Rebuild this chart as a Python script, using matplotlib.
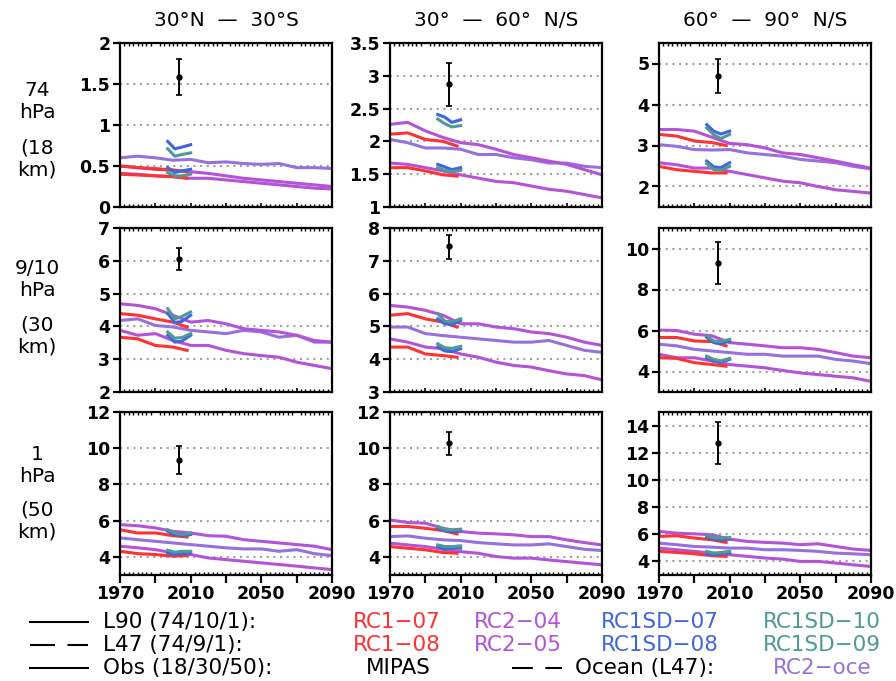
# -*- coding: utf-8 -*-

import numpy as np
import matplotlib
matplotlib.use("Agg")
import matplotlib.pyplot as plt
from matplotlib.lines import Line2D
from matplotlib.ticker import MultipleLocator

# ---- data (panels ordered row by row: 74 hPa, 9/10 hPa, 1 hPa x 3 latitude bands)
col_titles = ["30°N  —  30°S", "30°  —  60°  N/S", "60°  —  90°  N/S"]
row_top = ["74\nhPa", "9/10\nhPa", "1\nhPa"]
row_bot = ["(18\nkm)", "(30\nkm)", "(50\nkm)"]

yrs_long = [1970, 1980, 1990, 2000, 2010, 2020, 2030, 2040, 2050, 2060, 2070, 2080, 2090]
yrs_rc1 = [1970, 1980, 1990, 2000, 2008]
yrs_sd = [1997, 2001, 2005, 2010]
mipas_year = 2003.5

rc2_04 = [
    [0.50, 0.48, 0.47, 0.45, 0.43, 0.41, 0.38, 0.35, 0.33, 0.31, 0.29, 0.27, 0.25],
    [2.26, 2.29, 2.16, 2.06, 1.98, 1.95, 1.88, 1.80, 1.75, 1.70, 1.65, 1.57, 1.49],
    [3.39, 3.39, 3.35, 3.20, 3.05, 3.02, 2.94, 2.82, 2.78, 2.70, 2.62, 2.53, 2.45],
    [4.69, 4.64, 4.54, 4.34, 4.13, 4.18, 4.08, 3.93, 3.88, 3.83, 3.73, 3.57, 3.52],
    [5.64, 5.59, 5.49, 5.34, 5.08, 5.08, 4.98, 4.93, 4.83, 4.78, 4.67, 4.52, 4.42],
    [6.02, 6.00, 5.82, 5.74, 5.41, 5.33, 5.25, 5.16, 5.16, 5.08, 4.92, 4.75, 4.67],
    [5.78, 5.72, 5.60, 5.41, 5.32, 5.17, 5.14, 4.95, 4.86, 4.77, 4.68, 4.59, 4.40],
    [6.04, 5.90, 5.86, 5.58, 5.40, 5.31, 5.27, 5.22, 5.12, 5.12, 4.94, 4.79, 4.66],
    [6.21, 6.08, 6.03, 5.96, 5.64, 5.47, 5.40, 5.35, 5.23, 5.30, 5.10, 4.91, 4.81],
]
rc2_05 = [
    [0.41, 0.40, 0.38, 0.37, 0.35, 0.35, 0.33, 0.31, 0.29, 0.27, 0.25, 0.23, 0.22],
    [1.67, 1.65, 1.60, 1.55, 1.49, 1.44, 1.39, 1.37, 1.32, 1.27, 1.24, 1.19, 1.14],
    [2.58, 2.53, 2.45, 2.45, 2.37, 2.29, 2.21, 2.13, 2.09, 2.00, 1.92, 1.88, 1.84],
    [3.88, 3.73, 3.78, 3.57, 3.42, 3.42, 3.27, 3.17, 3.11, 3.06, 2.91, 2.81, 2.71],
    [4.62, 4.52, 4.37, 4.32, 4.16, 4.06, 3.91, 3.81, 3.76, 3.65, 3.55, 3.50, 3.37],
    [4.84, 4.67, 4.67, 4.51, 4.34, 4.26, 4.18, 4.05, 3.93, 3.85, 3.77, 3.69, 3.52],
    [4.59, 4.50, 4.40, 4.22, 4.13, 3.94, 3.85, 3.76, 3.67, 3.58, 3.49, 3.39, 3.30],
    [4.76, 4.66, 4.57, 4.42, 4.29, 4.20, 4.02, 3.93, 3.93, 3.83, 3.74, 3.65, 3.56],
    [4.98, 4.86, 4.74, 4.61, 4.49, 4.37, 4.25, 4.17, 4.00, 4.00, 3.88, 3.75, 3.63],
]
rc2_oce = [
    [0.60, 0.62, 0.60, 0.57, 0.58, 0.54, 0.55, 0.53, 0.52, 0.53, 0.48, 0.48, 0.47],
    [2.03, 1.98, 1.90, 1.90, 1.88, 1.80, 1.80, 1.75, 1.72, 1.67, 1.67, 1.62, 1.60],
    [3.02, 2.98, 2.90, 2.89, 2.90, 2.82, 2.78, 2.74, 2.66, 2.62, 2.58, 2.49, 2.43],
    [4.18, 4.23, 4.03, 3.98, 3.88, 3.83, 3.78, 3.88, 3.83, 3.67, 3.73, 3.52, 3.52],
    [4.98, 4.98, 4.78, 4.72, 4.67, 4.62, 4.57, 4.52, 4.52, 4.57, 4.42, 4.27, 4.21],
    [5.33, 5.25, 5.08, 5.00, 4.92, 4.84, 4.84, 4.75, 4.75, 4.75, 4.59, 4.51, 4.38],
    [5.05, 4.95, 4.86, 4.77, 4.68, 4.59, 4.50, 4.44, 4.44, 4.31, 4.40, 4.18, 4.07],
    [5.12, 5.16, 5.03, 4.94, 4.90, 4.79, 4.72, 4.66, 4.66, 4.72, 4.57, 4.42, 4.35],
    [5.35, 5.23, 5.10, 5.05, 4.98, 4.98, 4.86, 4.86, 4.81, 4.74, 4.61, 4.56, 4.49],
]
rc1_07 = [
    [0.50, 0.48, 0.46, 0.45, 0.43],
    [2.11, 2.13, 2.03, 2.00, 1.93],
    [3.27, 3.23, 3.11, 3.07, 3.00],
    [4.39, 4.34, 4.23, 4.13, 3.98],
    [5.34, 5.39, 5.23, 5.13, 4.98],
    [5.66, 5.66, 5.49, 5.46, 5.25],
    [5.50, 5.32, 5.32, 5.17, 5.10],
    [5.68, 5.68, 5.58, 5.45, 5.27],
    [5.84, 5.89, 5.72, 5.59, 5.40],
]
rc1_08 = [
    [0.40, 0.39, 0.38, 0.37, 0.35],
    [1.60, 1.60, 1.55, 1.49, 1.47],
    [2.49, 2.41, 2.37, 2.33, 2.33],
    [3.67, 3.62, 3.42, 3.37, 3.27],
    [4.37, 4.37, 4.16, 4.11, 4.06],
    [4.67, 4.64, 4.43, 4.34, 4.26],
    [4.31, 4.18, 4.13, 4.04, 4.07],
    [4.57, 4.48, 4.39, 4.24, 4.20],
    [4.74, 4.66, 4.56, 4.42, 4.37],
]
sd_07 = [
    [0.80, 0.71, 0.73, 0.76], [2.41, 2.37, 2.29, 2.33], [3.51, 3.35, 3.28, 3.35],
    [4.39, 4.12, 4.15, 4.34], [5.23, 5.08, 5.05, 5.18], [5.66, 5.41, 5.35, 5.49],
    [5.41, 5.23, 5.17, 5.23], [5.58, 5.45, 5.40, 5.45], [5.79, 5.64, 5.59, 5.64],
]
sd_08 = [
    [0.48, 0.42, 0.44, 0.46], [1.65, 1.61, 1.57, 1.60], [2.62, 2.48, 2.46, 2.58],
    [3.73, 3.52, 3.55, 3.73], [4.37, 4.25, 4.23, 4.32], [4.67, 4.51, 4.45, 4.59],
    [4.22, 4.13, 4.18, 4.22], [4.57, 4.42, 4.48, 4.48], [4.56, 4.49, 4.56, 4.61],
]
sd_10 = [
    [0.71, 0.62, 0.64, 0.66], [2.34, 2.27, 2.22, 2.24], [3.43, 3.26, 3.17, 3.27],
    [4.54, 4.23, 4.30, 4.44], [5.39, 5.16, 5.14, 5.23], [5.74, 5.49, 5.46, 5.57],
    [5.50, 5.32, 5.23, 5.32], [5.68, 5.53, 5.49, 5.53], [5.89, 5.76, 5.72, 5.76],
]
sd_09 = [
    [0.42, 0.38, 0.38, 0.40], [1.60, 1.56, 1.54, 1.56], [2.56, 2.41, 2.40, 2.49],
    [3.83, 3.64, 3.66, 3.78], [4.47, 4.35, 4.33, 4.39], [4.75, 4.59, 4.52, 4.64],
    [4.37, 4.26, 4.31, 4.31], [4.66, 4.57, 4.57, 4.61], [4.74, 4.61, 4.66, 4.74],
]
mipas_mean = [1.58, 2.87, 4.70, 6.06, 7.44, 9.29, 9.35, 10.29, 12.74]
mipas_lo = [1.37, 2.54, 4.28, 5.72, 7.05, 8.25, 8.57, 9.63, 11.20]
mipas_hi = [1.80, 3.19, 5.12, 6.39, 7.80, 10.30, 10.13, 10.92, 14.25]

ylims = [(0, 2), (1, 3.5), (1.5, 5.5), (2, 7), (3, 8), (3, 11), (3, 12), (3, 12), (3, 15)]
ysteps = [0.5, 0.5, 1, 1, 1, 2, 2, 2, 2]

c_rc1 = '#ff3232'
c_rc2 = '#b452d8'
c_oce = '#9670dc'
c_sdb = '#3f66e0'
c_sdt = '#4e9a94'

W, H = 896, 681
col_x = [120, 390, 659]
row_y = [43, 228, 412]
row_h = [164, 164, 163]
pw = 212

fig = plt.figure(figsize=(W / 100, H / 100), dpi=100)


def fx(px):
    return px / W


def fy(py):
    return 1 - py / H


for r in range(3):
    for c in range(3):
        i = r * 3 + c
        ax = fig.add_axes([fx(col_x[c]), fy(row_y[r] + row_h[r]), pw / W, row_h[r] / H])
        lw = 2.2
        ax.plot(yrs_long, rc2_oce[i], color=c_oce, lw=lw)
        ax.plot(yrs_long, rc2_04[i], color=c_rc2, lw=lw)
        ax.plot(yrs_long, rc2_05[i], color=c_rc2, lw=lw)
        ax.plot(yrs_rc1, rc1_07[i], color=c_rc1, lw=lw)
        ax.plot(yrs_rc1, rc1_08[i], color=c_rc1, lw=lw)
        ax.plot(yrs_sd, sd_07[i], color=c_sdb, lw=lw)
        ax.plot(yrs_sd, sd_08[i], color=c_sdb, lw=lw)
        ax.plot(yrs_sd, sd_10[i], color=c_sdt, lw=lw)
        ax.plot(yrs_sd, sd_09[i], color=c_sdt, lw=lw)
        m = mipas_mean[i]
        ax.errorbar([mipas_year], [m], yerr=[[m - mipas_lo[i]], [mipas_hi[i] - m]],
                    fmt='o', ms=3.5, color='k', ecolor='k', elinewidth=1.4,
                    capsize=2, capthick=1.2)

        ax.set_xlim(1970, 2090)
        ax.set_ylim(*ylims[i])
        lo, hi = ylims[i]
        st = ysteps[i]
        first = np.ceil(lo / st) * st
        yt = np.arange(first, hi + st / 2, st)
        ax.set_yticks(yt)
        ax.set_yticklabels(['%g' % v for v in yt], fontweight='bold', fontsize=12.5)
        ax.yaxis.grid(True, color='#a0a0a0', linestyle=(0, (1, 2.2)), lw=1.5)
        ax.set_axisbelow(True)

        ax.set_xticks(range(1970, 2091, 20))
        if r == 2:
            ax.set_xticklabels(['1970', '', '2010', '', '2050', '', '2090'],
                               fontweight='bold', fontsize=12.5)
            ax.tick_params(axis='x', which='major', direction='out', length=6,
                           width=1.6, pad=1.5)
        else:
            ax.set_xticklabels([])
            ax.tick_params(axis='x', which='major', direction='in', length=3, width=1.2)
        ax.xaxis.set_minor_locator(MultipleLocator(2.5))
        ax.tick_params(axis='x', which='minor', direction='in', length=2.2,
                       width=1, top=True, bottom=True)
        ax.tick_params(axis='y', which='major', direction='out', length=5,
                       width=1.6, pad=2)
        for s in ax.spines.values():
            s.set_linewidth(1.6)

# column titles
for c in range(3):
    fig.text(fx(col_x[c] + pw / 2), fy(21), col_titles[c], ha='center', va='center',
             fontsize=14.5)

# row labels
row_top_y = [102, 280, 465]
row_bot_y = [159, 336, 521]
for r in range(3):
    fig.text(fx(37), fy(row_top_y[r]), row_top[r], ha='center', va='center',
             fontsize=14.5, linespacing=1.2)
    fig.text(fx(37), fy(row_bot_y[r]), row_bot[r], ha='center', va='center',
             fontsize=14.5, linespacing=1.2)

# legend block
leg_y = [622, 645, 668]
fs = 15.5
fig.add_artist(Line2D([fx(30), fx(88)], [fy(leg_y[0])] * 2, color='k', lw=1.5))
fig.add_artist(Line2D([fx(30), fx(88)], [fy(leg_y[1])] * 2, color='k', lw=1.5,
                      linestyle=(0, (12, 6))))
fig.add_artist(Line2D([fx(30), fx(88)], [fy(leg_y[2])] * 2, color='k', lw=1.5))
fig.add_artist(Line2D([fx(512), fx(562)], [fy(leg_y[2])] * 2, color='k', lw=1.5,
                      linestyle=(0, (10, 6))))

fig.text(fx(103), fy(leg_y[0]), "L90 (74/10/1):", ha='left', va='center', fontsize=fs)
fig.text(fx(103), fy(leg_y[1]), "L47 (74/9/1):", ha='left', va='center', fontsize=fs)
fig.text(fx(103), fy(leg_y[2]), "Obs (18/30/50):", ha='left', va='center', fontsize=fs)
fig.text(fx(397), fy(leg_y[0]), "RC1\u221207", color=c_rc1, ha='center', va='center', fontsize=fs)
fig.text(fx(397), fy(leg_y[1]), "RC1\u221208", color=c_rc1, ha='center', va='center', fontsize=fs)
fig.text(fx(398), fy(leg_y[2]), "MIPAS", color='k', ha='center', va='center', fontsize=fs)
fig.text(fx(518), fy(leg_y[0]), "RC2\u221204", color=c_rc2, ha='center', va='center', fontsize=fs)
fig.text(fx(518), fy(leg_y[1]), "RC2\u221205", color=c_rc2, ha='center', va='center', fontsize=fs)
fig.text(fx(660), fy(leg_y[0]), "RC1SD\u221207", color=c_sdb, ha='center', va='center', fontsize=fs)
fig.text(fx(660), fy(leg_y[1]), "RC1SD\u221208", color=c_sdb, ha='center', va='center', fontsize=fs)
fig.text(fx(822), fy(leg_y[0]), "RC1SD\u221210", color=c_sdt, ha='center', va='center', fontsize=fs)
fig.text(fx(822), fy(leg_y[1]), "RC1SD\u221209", color=c_sdt, ha='center', va='center', fontsize=fs)
fig.text(fx(575), fy(leg_y[2]), "Ocean (L47):", ha='left', va='center', fontsize=fs)
fig.text(fx(822), fy(leg_y[2]), "RC2\u2212oce", color=c_oce, ha='center', va='center', fontsize=fs)

fig.savefig("out.png", dpi=100)
